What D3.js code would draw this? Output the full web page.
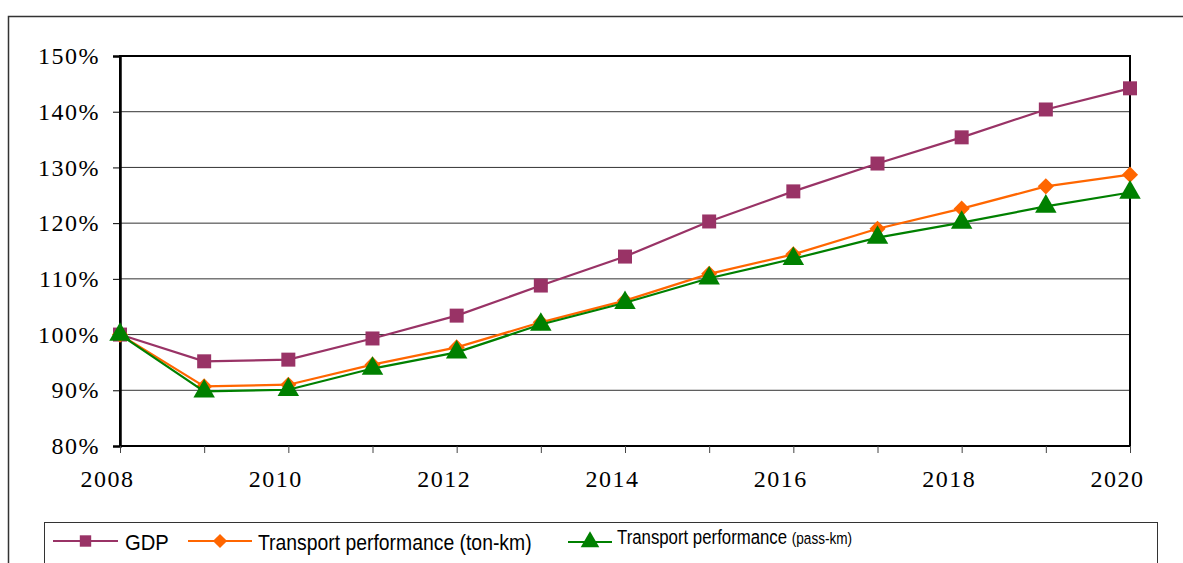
<!DOCTYPE html>
<html>
<head>
<meta charset="utf-8">
<script src="https://cdn.jsdelivr.net/npm/d3@7"></script>
<style>
  body { margin: 0; background: #fff; }
</style>
</head>
<body>
<svg class="chart" width="1183" height="563"></svg>
<script>
// values (index, 2008 = 100%)
var years = [2008, 2009, 2010, 2011, 2012, 2013, 2014, 2015, 2016, 2017, 2018, 2019, 2020];
var gdp = [100, 95.2, 95.5, 99.3, 103.4, 108.8, 114.0, 120.3, 125.7, 130.7, 135.4, 140.4, 144.2];
var tonKm = [100, 90.7, 91.0, 94.6, 97.7, 102.2, 106.1, 110.9, 114.4, 119.0, 122.6, 126.6, 128.7];
var passKm = [100, 89.8, 90.1, 93.9, 96.8, 101.8, 105.7, 110.1, 113.6, 117.4, 120.1, 123.0, 125.5];
var yTicks = [80, 90, 100, 110, 120, 130, 140, 150];
var xTicks = [2008, 2010, 2012, 2014, 2016, 2018, 2020];

var svg = d3.select(".chart");

var margin = { top: 56, left: 120 },
    width = 1130 - margin.left,
    height = 446 - margin.top;

// outer frame (cut off on the right and bottom)
svg.append("rect")
    .attr("x", 8.5).attr("y", 16.5)
    .attr("width", 1200).attr("height", 600)
    .attr("fill", "none").attr("stroke", "#333").attr("stroke-width", 1.5);

var g = svg.append("g")
    .attr("transform", "translate(" + margin.left + "," + margin.top + ")");

var x = d3.scaleLinear().domain([2008, 2020]).range([0, width]);
var y = d3.scaleLinear().domain([80, 150]).range([height, 0]);

// horizontal grid lines
g.selectAll(".grid")
    .data(yTicks)
    .enter().append("line")
    .attr("class", "grid")
    .attr("x1", 0).attr("x2", width)
    .attr("y1", d => y(d)).attr("y2", d => y(d))
    .attr("stroke", "#333").attr("stroke-width", 1);

// plot frame
g.append("rect")
    .attr("x", 0).attr("y", 0)
    .attr("width", width).attr("height", height)
    .attr("fill", "none").attr("stroke", "#000").attr("stroke-width", 2);

var serif = "Liberation Serif, Times New Roman, serif";

var yAxis = g.append("g")
    .call(d3.axisLeft(y).tickValues(yTicks).tickSize(7).tickPadding(13)
        .tickFormat(d => d + "%"));
yAxis.select(".domain").attr("stroke-width", 2.5);
yAxis.selectAll("text")
    .style("font-family", serif)
    .style("font-size", "24px")
    .style("letter-spacing", "1.5px")
    .attr("fill", "#000");

var xAxis = g.append("g")
    .attr("transform", "translate(0," + height + ")")
    .call(d3.axisBottom(x).tickValues(years).tickSize(7).tickPadding(17)
        .tickFormat(d => xTicks.indexOf(d) >= 0 ? d : ""));
xAxis.select(".domain").remove();
xAxis.selectAll("line").attr("stroke", "#444");
xAxis.selectAll("text")
    .attr("dx", -13)
    .style("font-family", serif)
    .style("font-size", "24px")
    .style("letter-spacing", "1.5px")
    .attr("fill", "#000");

var series = [
    { name: "GDP", values: gdp, color: "#993366", symbol: d3.symbolSquare, size: 196, rot: 0 },
    { name: "ton", values: tonKm, color: "#FF6600", symbol: d3.symbolSquare, size: 130, rot: 45 },
    { name: "pass", values: passKm, color: "#008000", symbol: d3.symbolTriangle, size: 200, rot: 0 }
];

var line = d3.line()
    .x((d, i) => x(years[i]))
    .y(d => y(d));

series.forEach(function (s) {
    g.append("path")
        .datum(s.values)
        .attr("fill", "none")
        .attr("stroke", s.color)
        .attr("stroke-width", 2.2)
        .attr("d", line);
    g.selectAll(".pt-" + s.name)
        .data(s.values)
        .enter().append("path")
        .attr("class", "pt-" + s.name)
        .attr("transform", (d, i) => "translate(" + x(years[i]) + "," + y(d) + ") rotate(" + s.rot + ")")
        .attr("d", d3.symbol().type(s.symbol).size(s.size))
        .attr("fill", s.color);
});

// legend
var legend = svg.append("g");
legend.append("rect")
    .attr("x", 44.5).attr("y", 522.5)
    .attr("width", 1113).attr("height", 60)
    .attr("fill", "none").attr("stroke", "#333").attr("stroke-width", 1);

var legendItems = [
    { s: series[0], x1: 53, x2: 118, ly: 541, size: 130 },
    { s: series[1], x1: 188, x2: 252, ly: 541, size: 100 },
    { s: series[2], x1: 568, x2: 612, ly: 542, size: 150 }
];
legendItems.forEach(function (it) {
    legend.append("line")
        .attr("x1", it.x1).attr("x2", it.x2)
        .attr("y1", it.ly).attr("y2", it.ly)
        .attr("stroke", it.s.color).attr("stroke-width", 2);
    legend.append("path")
        .attr("transform", "translate(" + ((it.x1 + it.x2) / 2) + "," + it.ly + ") rotate(" + it.s.rot + ")")
        .attr("d", d3.symbol().type(it.s.symbol).size(it.size))
        .attr("fill", it.s.color);
});

// legend labels, squeezed horizontally like the narrow original font
var lf = "Liberation Sans, Arial, sans-serif";
legend.append("text")
    .attr("transform", "translate(125,550) scale(0.92,1)")
    .attr("font-family", lf).attr("font-size", "22px")
    .text("GDP");
legend.append("text")
    .attr("transform", "translate(258,550) scale(0.88,1)")
    .attr("font-family", lf).attr("font-size", "22px")
    .text("Transport performance (ton-km)");
var t3 = legend.append("text")
    .attr("transform", "translate(617,544) scale(0.8,1)")
    .attr("font-family", lf).attr("font-size", "21px");
t3.append("tspan").text("Transport performance ");
t3.append("tspan").attr("font-size", "17px").text("(pass-km)");
</script>
</body>
</html>
